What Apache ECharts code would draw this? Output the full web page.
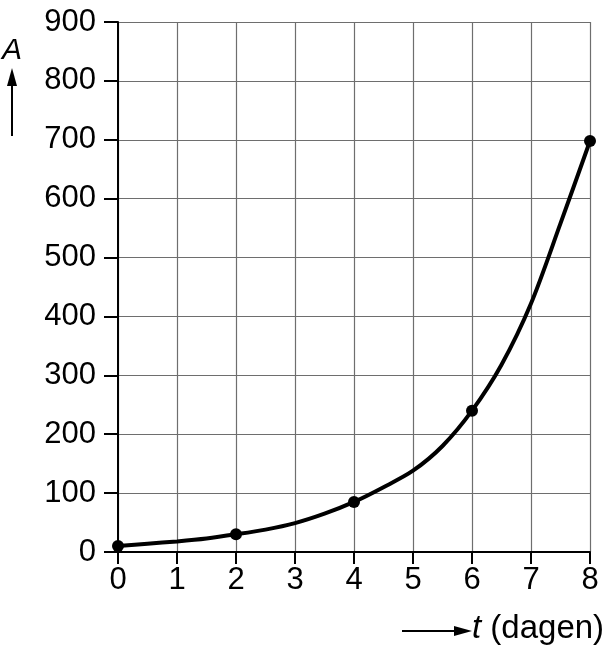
<!DOCTYPE html>
<html>
<head>
<meta charset="utf-8">
<script src="https://cdn.jsdelivr.net/npm/echarts@6/dist/echarts.min.js"></script>
<style>
  html, body { margin: 0; padding: 0; background: #fff; }
  #chart { width: 610px; height: 650px; }
</style>
</head>
<body>
<div id="chart"></div>
<script>
// curve every half day
const curveT = [0, 0.5, 1, 1.5, 2, 2.5, 3, 3.5, 4, 4.5, 5, 5.5, 6, 6.5, 7, 7.5, 8];
const curveA = [10, 14, 18, 23, 30, 38, 49, 65, 85, 110, 138, 180, 240, 318, 422, 558, 698];

// measured points (dots)
const pointT = [0, 2, 4, 6, 8];
const pointA = [10, 30, 85, 240, 698];

const xTicks = [0, 1, 2, 3, 4, 5, 6, 7, 8];
const yTicks = [0, 100, 200, 300, 400, 500, 600, 700, 800, 900];

const font = 'Liberation Sans, Arial, sans-serif';
const chart = echarts.init(document.getElementById('chart'));

const option = {
  backgroundColor: '#fff',
  animation: false,
  grid: { left: 118, right: 20, top: 22, bottom: 98 },
  xAxis: {
    type: 'value',
    min: xTicks[0],
    max: xTicks[xTicks.length - 1],
    interval: 1,
    axisLine: { show: true, onZero: false, lineStyle: { color: '#000', width: 2 } },
    axisTick: { show: true, length: 12, lineStyle: { color: '#000', width: 2 } },
    axisLabel: { color: '#000', fontSize: 31, fontFamily: font, margin: 13 },
    splitLine: { show: true, lineStyle: { color: '#6e6e6e', width: 1.2 } }
  },
  yAxis: {
    type: 'value',
    min: yTicks[0],
    max: yTicks[yTicks.length - 1],
    interval: 100,
    axisLine: { show: true, lineStyle: { color: '#000', width: 2 } },
    axisTick: { show: true, length: 14, lineStyle: { color: '#000', width: 2 } },
    axisLabel: { color: '#000', fontSize: 31, fontFamily: font, margin: 22 },
    splitLine: { show: true, lineStyle: { color: '#6e6e6e', width: 1.2 } }
  },
  series: [
    {
      type: 'line',
      data: curveT.map((t, i) => [t, curveA[i]]),
      showSymbol: false,
      smooth: 0.3,
      lineStyle: { color: '#000', width: 4 },
      z: 3
    },
    {
      type: 'scatter',
      data: pointT.map((t, i) => [t, pointA[i]]),
      symbolSize: 12,
      itemStyle: { color: '#000', opacity: 1 },
      z: 4
    }
  ],
  graphic: [
    {
      type: 'text', left: 2, top: 36,
      style: { text: 'A', font: 'italic 30px ' + font, fill: '#000' }
    },
    {
      type: 'line', shape: { x1: 12, y1: 136, x2: 12, y2: 84 },
      style: { stroke: '#000', lineWidth: 2 }
    },
    {
      type: 'polygon', shape: { points: [[12, 68], [7, 86], [17, 86]] },
      style: { fill: '#000' }
    },
    {
      type: 'line', shape: { x1: 402, y1: 631, x2: 456, y2: 631 },
      style: { stroke: '#000', lineWidth: 2 }
    },
    {
      type: 'polygon', shape: { points: [[472, 631], [454, 626], [454, 636]] },
      style: { fill: '#000' }
    },
    {
      type: 'text', left: 472, top: 612,
      style: {
        text: '{i|t} (dagen)',
        font: '33px ' + font,
        fill: '#000',
        rich: { i: { fontStyle: 'italic', fontSize: 33, fontFamily: font, fill: '#000' } }
      }
    }
  ]
};

chart.setOption(option);
</script>
</body>
</html>
